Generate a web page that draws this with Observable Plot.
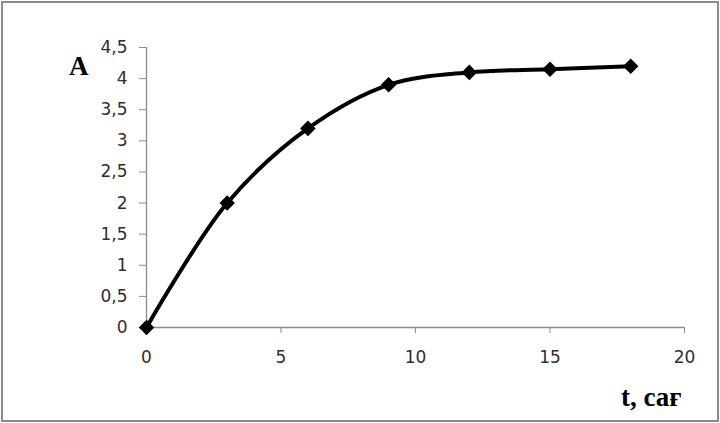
<!DOCTYPE html>
<html>
<head>
<meta charset="utf-8">
<script src="https://cdn.jsdelivr.net/npm/d3@7"></script>
<script src="https://cdn.jsdelivr.net/npm/@observablehq/plot@0.6"></script>
<style>
  html, body { margin: 0; padding: 0; background: #fff; }
  #wrap { position: relative; width: 720px; height: 423px; }
  #frame { position: absolute; left: 1px; top: 1px; width: 714px; height: 417px; border: 2px solid #8a8a8a; box-sizing: content-box; pointer-events: none; }
  .lbl { position: absolute; font-family: "Liberation Serif", "DejaVu Serif", serif; font-weight: bold; font-size: 27px; color: #000; line-height: 1; }
  #chart svg text { font-family: "DejaVu Sans", sans-serif; font-size: 17px; }
</style>
</head>
<body>
<div id="wrap">
  <div id="chart"></div>
  <div id="frame"></div>
  <div class="lbl" id="ylbl" style="left:69px; top:53px;">A</div>
  <div class="lbl" id="xlbl" style="left:621px; top:384px;">t, сағ</div>
</div>
<script>
const tValues = [0, 3, 6, 9, 12, 15, 18];
const aValues = [0, 2, 3.2, 3.9, 4.1, 4.15, 4.2];
const xTicks = [0, 5, 10, 15, 20];
const yTicks = [0, 0.5, 1, 1.5, 2, 2.5, 3, 3.5, 4, 4.5];

const data = tValues.map((t, i) => ({t, a: aValues[i]}));
const fmt = d => String(d).replace(".", ",");

const chart = Plot.plot({
  width: 720,
  height: 423,
  marginLeft: 146,
  marginRight: 36,
  marginTop: 47,
  marginBottom: 96,
  style: {fontFamily: "'DejaVu Sans', sans-serif", fontSize: "17px", color: "#333", background: "transparent"},
  x: {domain: [0, 20], axis: null},
  y: {domain: [0, 4.5], axis: null},
  marks: [
    Plot.ruleY([0], {stroke: "#8c8c8c", strokeWidth: 1.3}),
    Plot.ruleX([0], {stroke: "#8c8c8c", strokeWidth: 1.3}),
    Plot.axisX({ticks: xTicks, tickFormat: fmt, tickSize: 6, tickPadding: 17, stroke: "#8c8c8c", fill: "#2e2e2e", fontSize: 17, label: null}),
    Plot.axisY({ticks: yTicks, tickFormat: fmt, tickSize: 7, tickPadding: 12, stroke: "#8c8c8c", fill: "#2e2e2e", fontSize: 17, label: null}),
    Plot.line(data, {x: "t", y: "a", curve: "catmull-rom", stroke: "#000", strokeWidth: 4}),
    Plot.dot(data, {x: "t", y: "a", symbol: "diamond2", r: 7, fill: "#000", stroke: "none"})
  ]
});
document.getElementById("chart").appendChild(chart);
</script>
</body>
</html>
